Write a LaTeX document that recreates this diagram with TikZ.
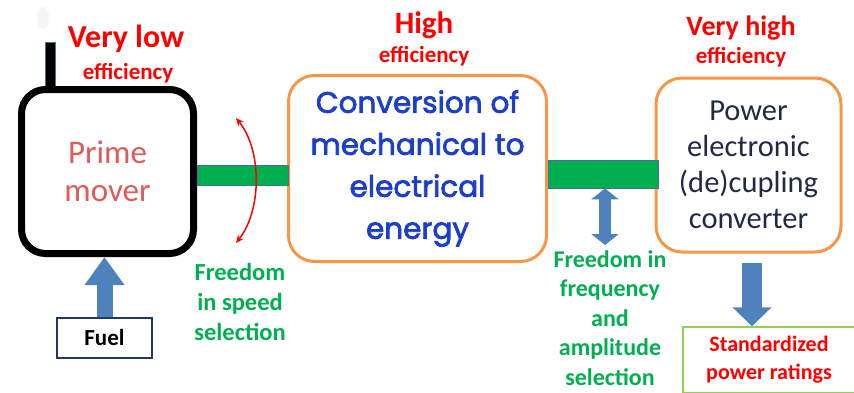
\documentclass[tikz,border=0pt]{standalone}
\usepackage{fontspec}
\setmainfont{Carlito}
\newfontfamily\popfont[FakeBold=2.5]{Poppins}
\usetikzlibrary{arrows.meta}
\definecolor{ored}{HTML}{FF0000}
\definecolor{oorange}{HTML}{F79646}
\definecolor{ogreen}{HTML}{00B050}
\definecolor{obar}{HTML}{00B050}
\definecolor{oblue}{HTML}{4F81BD}
\definecolor{oblueb}{HTML}{41719C}
\definecolor{olgreen}{HTML}{92D050}
\definecolor{onavy}{HTML}{1F3864}
\definecolor{otext}{HTML}{1F2A44}
\definecolor{oprime}{HTML}{E05A5A}
\definecolor{ocblue}{HTML}{1C3FCB}
\begin{document}
\begin{tikzpicture}[x=1pt,y=-1pt,
  effbig/.style={text=ored,font=\fontsize{31}{33}\selectfont\bfseries,inner sep=0pt},
  effsmall/.style={text=ored,font=\fontsize{23}{25}\selectfont\bfseries,inner sep=0pt},
  freetext/.style={text=ogreen,font=\fontsize{24.5}{30}\selectfont\bfseries,align=center,inner sep=0pt},
  bar/.style={fill=obar,draw=oblueb,line width=0.8pt},
  obox/.style={draw=oorange,line width=3pt,rounded corners=26pt,inner sep=0pt}]
\useasboundingbox (0,0) rectangle (854,392);
\fill[white] (0,0) rectangle (854,392);
% smoke
\fill[black!4] (43,18) ellipse (6pt and 11pt);
% exhaust
\node[fill=black,draw=oblueb,line width=0.8pt,minimum width=10pt,minimum height=50pt,inner sep=0pt] (exh) at (50,67) {};
% prime mover
\node[draw=black,line width=7pt,rounded corners=24pt,minimum width=172pt,minimum height=164pt,inner sep=0pt,
  text=oprime,font=\fontsize{33}{38}\selectfont,align=center] (prime) at (107.5,171.5) {Prime\\mover};
% middle
\node[obox,minimum width=258pt,minimum height=186pt,text=ocblue,font=\popfont\fontsize{29.5}{42}\selectfont,align=center] (conv) at (417.5,168.5)
  {Conversion of\\mechanical to\\electrical\\energy};
% right
\node[obox,minimum width=185pt,minimum height=174pt,text=otext,font=\fontsize{30.5}{36}\selectfont,align=center] (pe) at (748.5,165)
  {Power\\electronic\\(de)cupling\\converter};
% bars
\node[bar,minimum width=91pt,minimum height=20pt,inner sep=0pt] (bar1) at (242.5,175) {};
\node[bar,minimum width=110pt,minimum height=28pt,inner sep=0pt] (bar2) at (603,174) {};
% efficiency labels
\node[effbig,font=\fontsize{32}{33}\selectfont\bfseries,anchor=base] (vl) at (126,47) {Very low};
\node[effsmall,anchor=base] (vle) at (128,79) {efficiency};
\node[effbig,anchor=base] (hi) at (424,33) {High};
\node[effsmall,anchor=base] (hie) at (424,62) {efficiency};
\node[effbig,font=\fontsize{28}{30}\selectfont\bfseries,anchor=base] (vh) at (741,35) {Very high};
\node[effsmall,anchor=base] (vhe) at (741,63) {efficiency};
% speed arc
\coordinate (arcA) at (236,118);
\coordinate (arcB) at (236,243);
\draw[ored,line width=1.5pt,{Stealth[length=8pt,width=7pt]}-{Stealth[length=8pt,width=7pt]}] (arcA) .. controls (262,150) and (262,210) .. (arcB);
\node[freetext,anchor=north] (fs) at (240,263) {Freedom\\in speed\\selection};
% fuel
\node[draw=onavy,line width=1.5pt,minimum width=95pt,minimum height=40pt,inner sep=0pt,font=\fontsize{23}{24}\selectfont\bfseries] (fuel) at (104.5,338) {Fuel};
\draw[oblue,line width=16pt,-{Triangle[length=28pt,width=38pt]}] (fuel.north) -- (prime.south -| fuel.north);
% frequency arrow
\coordinate (fa) at (605,245);
\draw[oblue,line width=12pt,{Triangle[length=11pt,width=27pt]}-{Triangle[length=11pt,width=27pt]}] (bar2.south -| fa) -- (fa);
\node[freetext,font=\fontsize{24}{29.5}\selectfont\bfseries,anchor=north] (ff) at (610,250) {Freedom in\\frequency\\and\\amplitude\\selection};
% output
\node[draw=olgreen,line width=1.5pt,minimum width=172pt,minimum height=66pt,inner sep=0pt,text=ored,
  font=\fontsize{22}{28}\selectfont\bfseries,align=center] (std) at (769,360) {Standardized\\power ratings};
\coordinate (oa) at (752,328);
\draw[oblue,line width=20pt,-{Triangle[length=19pt,width=38pt]}] (pe.south -| oa) ++(0,9) -- (std.north -| oa);
\end{tikzpicture}
\end{document}
